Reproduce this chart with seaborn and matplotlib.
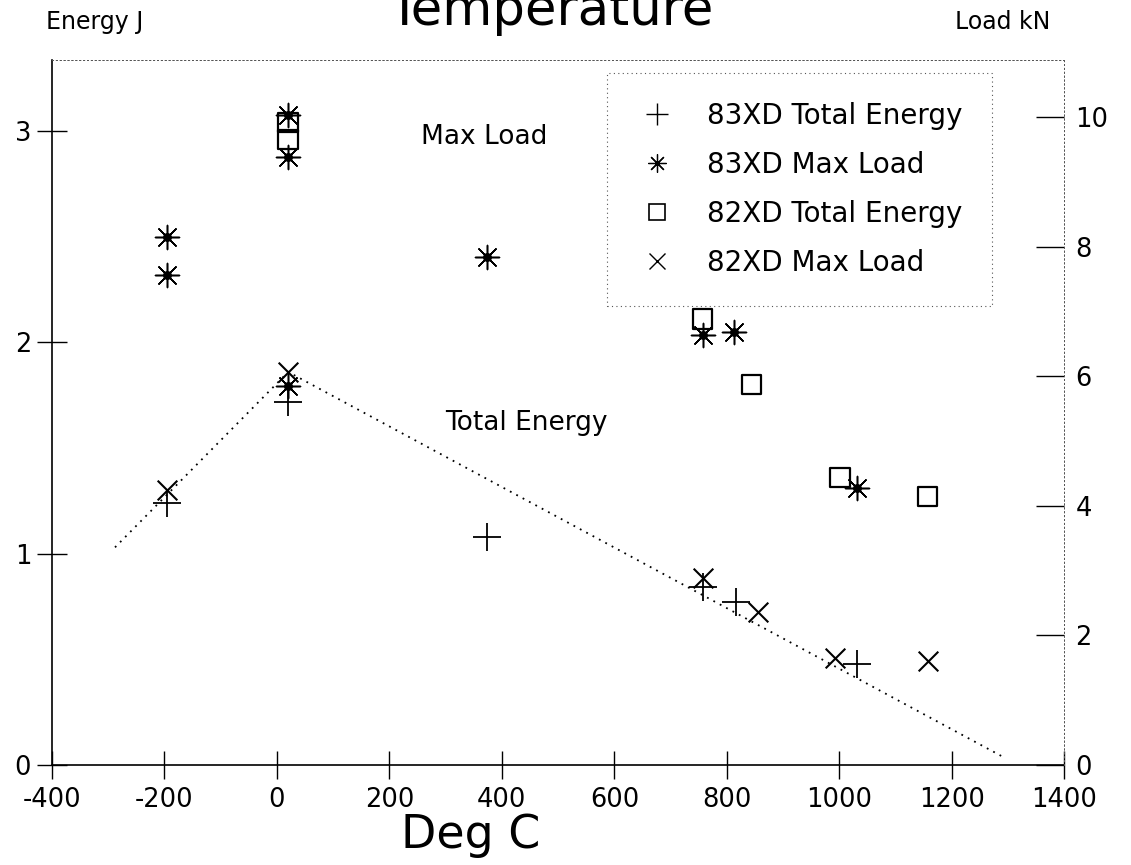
import matplotlib
matplotlib.use("Agg")
import matplotlib.pyplot as plt
from matplotlib.lines import Line2D
import seaborn as sns

# ---- data ----
x_ticks = [-400, -200, 0, 200, 400, 600, 800, 1000, 1200, 1400]
left_ticks = [0, 1, 2, 3]
right_ticks = [0, 2, 4, 6, 8, 10]

temp_83_energy = [-196, 20, 373, 757, 816, 1031]
energy_83 = [1.24, 1.72, 1.08, 0.84, 0.77, 0.48]

temp_83_load = [-196, -196, 20, 20, 20, 373, 757, 812, 1031]
load_83 = [8.15, 7.56, 10.03, 9.38, 5.85, 7.84, 6.64, 6.68, 4.27]

temp_82_energy = [20, 20, 757, 844, 1001, 1157]
energy_82 = [3.04, 2.96, 2.11, 1.80, 1.36, 1.27]

temp_82_load = [-196, 20, 757, 855, 992, 1157]
load_82 = [4.24, 6.06, 2.89, 2.36, 1.65, 1.60]

trend_temp = [-288, 20, 1290]
trend_energy = [1.03, 1.86, 0.04]

labels = ["83XD Total Energy", "83XD Max Load", "82XD Total Energy", "82XD Max Load"]

# ---- figure ----
sns.set_theme(style="white")
plt.rcParams['font.family'] = ['DejaVu Sans']
plt.rcParams['text.color'] = 'black'
plt.rcParams['xtick.color'] = 'black'
plt.rcParams['ytick.color'] = 'black'
fig = plt.figure(figsize=(11.31, 8.65), dpi=100)
ax = fig.add_axes([0.046, 0.1156, 0.895, 0.815])
ax2 = ax.twinx()

star = (8, 2, 0)

sns.lineplot(x=trend_temp, y=trend_energy, sort=False, ax=ax, color="black",
             linestyle=(0, (1, 3)), linewidth=1.3)
sns.scatterplot(x=temp_83_energy, y=energy_83, ax=ax, marker="+", s=420,
                color="black", linewidth=1.3)
sns.scatterplot(x=temp_82_energy, y=energy_82, ax=ax, marker="s", s=200,
                color="black", facecolor="none", edgecolor="black", linewidth=1.6)
sns.scatterplot(x=temp_83_load, y=load_83, ax=ax2, marker=star, s=300,
                color="black", linewidth=1.1)
sns.scatterplot(x=temp_83_load, y=load_83, ax=ax2, marker="o", s=35,
                color="black", edgecolor="black")
sns.scatterplot(x=temp_82_load, y=load_82, ax=ax2, marker="x", s=200,
                color="black", linewidth=1.5)

ax.set_xlim(-400, 1400)
ax.set_ylim(0, 3.336)
ax2.set_ylim(0, 10.88)
ax.set_xticks(x_ticks)
ax.set_xticklabels([str(t) for t in x_ticks])
ax.set_yticks(left_ticks)
ax.set_yticklabels([str(t) for t in left_ticks])
ax2.set_yticks(right_ticks)
ax2.set_yticklabels([str(t) for t in right_ticks])

ax.tick_params(axis="x", direction="inout", length=20, width=1, labelsize=18.5,
               pad=6, colors="black", bottom=True)
ax.tick_params(axis="y", direction="inout", length=22, width=1, labelsize=18.5,
               pad=4, colors="black", left=True)
ax2.tick_params(axis="y", direction="in", length=20, width=1, labelsize=18.5,
                pad=8, colors="black", right=True)

for a in (ax, ax2):
    for s in ("top", "right"):
        a.spines[s].set_linestyle((0, (1, 3)))
        a.spines[s].set_linewidth(0.7)
        a.spines[s].set_color("#555555")
    for s in ("left", "bottom"):
        a.spines[s].set_color("black")
        a.spines[s].set_linewidth(1.2)
ax2.spines["left"].set_visible(False)
ax2.spines["bottom"].set_visible(False)

ax.set_xlabel("")
ax.set_ylabel("")
ax2.set_ylabel("")

ax.text(368, 2.97, "Max Load", ha="center", va="center", fontsize=19, color="black")
ax.text(443, 1.62, "Total Energy", ha="center", va="center", fontsize=19, color="black")

fig.text(551 / 1131, 1 - 25 / 865, "Temperature", ha="center", va="baseline",
         fontsize=37, color="black")
fig.text(95 / 1131, 1 - 22 / 865, "Energy J", ha="center", va="center",
         fontsize=17, color="black")
fig.text(1003 / 1131, 1 - 22 / 865, "Load kN", ha="center", va="center",
         fontsize=17, color="black")
fig.text(471 / 1131, 1 - 835 / 865, "Deg C", ha="center", va="center",
         fontsize=33, color="black")

handles = [
    Line2D([], [], linestyle="none", marker="+", markersize=16, color="black", markeredgewidth=1.0),
    Line2D([], [], linestyle="none", marker=star, markersize=13, color="black", markeredgewidth=0.9),
    Line2D([], [], linestyle="none", marker="s", markersize=12, markerfacecolor="none",
           markeredgecolor="black", markeredgewidth=1.2),
    Line2D([], [], linestyle="none", marker="x", markersize=11, color="black", markeredgewidth=1.0),
]
leg = ax2.legend(handles, labels, loc="upper left",
                 bbox_to_anchor=(607 / 1131, 1 - 73 / 865), bbox_transform=fig.transFigure,
                 fontsize=20, frameon=True, fancybox=False, borderpad=1.05,
                 labelspacing=0.75, handlelength=1.5, handletextpad=1.05, borderaxespad=0)
for t in leg.get_texts():
    t.set_color("black")
fr = leg.get_frame()
fr.set_edgecolor("#555555")
fr.set_linestyle((0, (1, 3)))
fr.set_linewidth(0.8)
fr.set_facecolor("white")
fr.set_alpha(1)

fig.savefig("out.png", dpi=100, facecolor="white")
